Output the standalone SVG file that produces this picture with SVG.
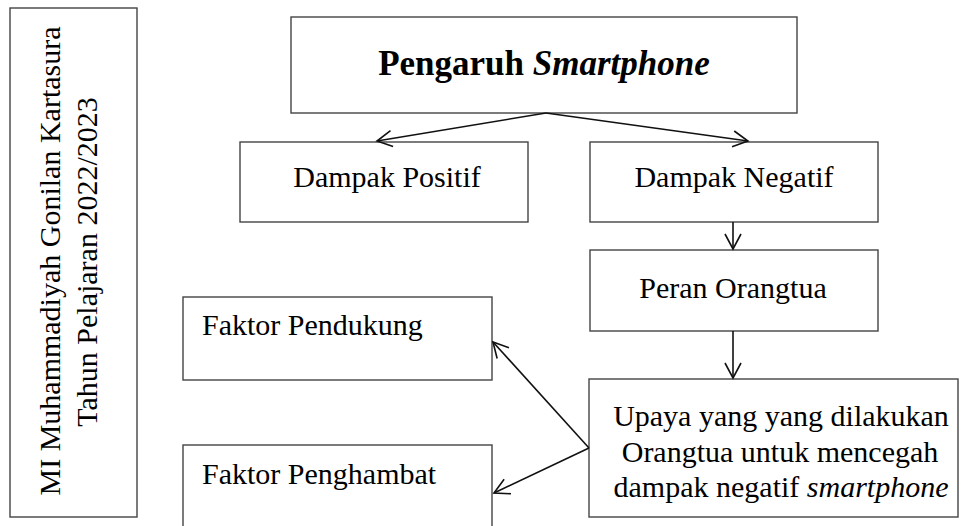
<svg xmlns="http://www.w3.org/2000/svg" width="961" height="526" viewBox="0 0 961 526">
<style>
.box{fill:#fff;stroke:#444;stroke-width:1.4}
.t{font-family:"Liberation Serif","Times New Roman",serif;font-size:30px;fill:#000}
.c{text-anchor:middle}
.title{font-family:"Liberation Serif","Times New Roman",serif;font-size:35px;font-weight:bold;fill:#000;text-anchor:middle}
.edge{fill:none;stroke:#111;stroke-width:1.6}
</style>
<defs>
<marker id="arr" viewBox="-17 -10 19 20" refX="0" refY="0" markerWidth="19" markerHeight="20" markerUnits="userSpaceOnUse" orient="auto">
<path d="M-15,-8 L0,0 L-15,8" fill="none" stroke="#111" stroke-width="1.6"/>
</marker>
</defs>
<rect width="961" height="526" fill="#fff"/>
<g id="side">
<rect class="box" x="10" y="8" width="127" height="509"/>
<text class="t c" transform="translate(60,261) rotate(-90)">MI Muhammadiyah Gonilan Kartasura</text>
<text class="t c" transform="translate(97,262) rotate(-90)">Tahun Pelajaran 2022/2023</text>
</g>
<g id="n-pengaruh">
<rect class="box" x="291" y="17" width="506" height="96"/>
<text class="title" x="544" y="75">Pengaruh <tspan font-style="italic">Smartphone</tspan></text>
</g>
<g id="n-positif">
<rect class="box" x="240" y="142" width="288" height="80"/>
<text class="t c" x="387" y="187">Dampak Positif</text>
</g>
<g id="n-negatif">
<rect class="box" x="590" y="142" width="288" height="80"/>
<text class="t c" x="734" y="187">Dampak Negatif</text>
</g>
<g id="n-peran">
<rect class="box" x="590" y="250" width="288" height="81"/>
<text class="t c" x="733" y="298">Peran Orangtua</text>
</g>
<g id="n-pendukung">
<rect class="box" x="183" y="297" width="309" height="83"/>
<text class="t" x="202" y="335">Faktor Pendukung</text>
</g>
<g id="n-penghambat">
<rect class="box" x="183" y="445" width="309" height="90"/>
<text class="t" x="202" y="484">Faktor Penghambat</text>
</g>
<g id="n-upaya">
<rect class="box" x="589" y="379" width="369" height="138"/>
<text class="t c" x="781" y="426">Upaya yang yang dilakukan</text>
<text class="t c" x="780" y="462">Orangtua untuk mencegah</text>
<text class="t c" x="781" y="497">dampak negatif <tspan font-style="italic">smartphone</tspan></text>
</g>
<g id="connectors">
<path class="edge" d="M546,113 L377,141" marker-end="url(#arr)"/>
<path class="edge" d="M546,113 L748,141" marker-end="url(#arr)"/>
<path class="edge" d="M733,222 L733,249" marker-end="url(#arr)"/>
<path class="edge" d="M733,331 L733,378" marker-end="url(#arr)"/>
<path class="edge" d="M589,448 L493,342" marker-end="url(#arr)"/>
<path class="edge" d="M589,448 L494,493" marker-end="url(#arr)"/>
</g>
</svg>
